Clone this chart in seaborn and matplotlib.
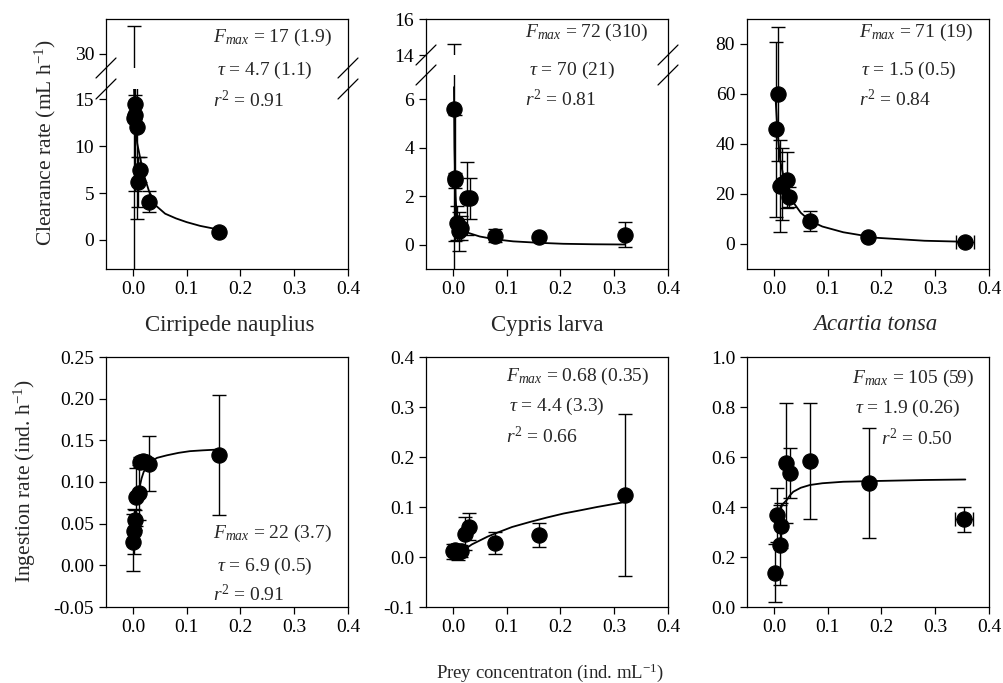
import matplotlib
matplotlib.use("Agg")
import matplotlib.pyplot as plt
import seaborn as sns
from matplotlib.lines import Line2D
from matplotlib.ticker import FormatStrFormatter

# ---- clearance rate, Cirripede nauplius
cn_clr_x = [0.002, 0.003, 0.004, 0.007, 0.010, 0.014, 0.030, 0.160]
cn_clr_y = [13.0, 14.5, 13.3, 12.0, 6.2, 7.5, 4.1, 0.9]
cn_clr_err = [20.0, 1.0, 8.1, 9.8, 2.7, 1.3, 1.1, 0.3]
cn_clr_fit_x = [0.002, 0.004, 0.008, 0.013, 0.02, 0.03, 0.044, 0.06, 0.08, 0.1, 0.125, 0.16]
cn_clr_fit_y = [16.5, 12.5, 10.3, 8.9, 7.0, 5.2, 3.6, 2.8, 2.3, 1.9, 1.5, 1.1]

# ---- clearance rate, Cypris larva
cy_clr_x = [0.002, 0.003, 0.004, 0.007, 0.012, 0.016, 0.027, 0.032, 0.078, 0.160, 0.320]
cy_clr_y = [5.6, 2.75, 2.65, 0.9, 0.55, 0.69, 1.92, 1.92, 0.38, 0.30, 0.42]
cy_clr_err = [9.0, 2.6, 0.3, 0.7, 0.8, 0.5, 1.5, 0.85, 0.25, 0.1, 0.53]
cy_clr_fit_x = [0.002, 0.003, 0.005, 0.007, 0.010, 0.019, 0.030, 0.05, 0.08, 0.112, 0.16, 0.205, 0.26, 0.32]
cy_clr_fit_y = [6.5, 4.0, 2.0, 1.2, 0.9, 0.62, 0.48, 0.34, 0.22, 0.14, 0.08, 0.04, 0.02, 0.01]

# ---- clearance rate, Acartia tonsa
at_clr_x = [0.003, 0.008, 0.011, 0.016, 0.024, 0.029, 0.067, 0.175, 0.355]
at_clr_y = [46, 60, 23.1, 24, 25.6, 18.9, 9.3, 3.0, 1.0]
at_clr_err = [35, 26.7, 18.4, 14.5, 11.2, 4.0, 4.0, 1.2, 0.8]
at_clr_xerr = [0, 0, 0, 0, 0, 0, 0, 0.005, 0.017]
at_clr_fit_x = [0.002, 0.004, 0.006, 0.008, 0.012, 0.018, 0.024, 0.036, 0.05, 0.067, 0.09, 0.129, 0.19, 0.28, 0.355]
at_clr_fit_y = [62, 55, 48, 42, 33, 27, 23.3, 16.7, 12.5, 9.3, 7.0, 4.7, 2.5, 1.3, 0.9]

# ---- ingestion rate, Cirripede nauplius
cn_ing_x = [0.001, 0.002, 0.003, 0.006, 0.012, 0.014, 0.018, 0.024, 0.030, 0.160]
cn_ing_y = [0.0275, 0.041, 0.054, 0.082, 0.087, 0.124, 0.125, 0.124, 0.122, 0.132]
cn_ing_err = [0.034, 0.027, 0.012, 0.035, 0.033, 0.006, 0.004, 0.005, 0.033, 0.072]
cn_ing_fit_x = [0.008, 0.012, 0.016, 0.020, 0.025, 0.032, 0.045, 0.063, 0.085, 0.106, 0.13, 0.16]
cn_ing_fit_y = [0.075, 0.092, 0.104, 0.112, 0.118, 0.124, 0.129, 0.132, 0.135, 0.137, 0.138, 0.139]

# ---- ingestion rate, Cypris larva
cy_ing_x = [0.001, 0.003, 0.006, 0.010, 0.016, 0.022, 0.030, 0.078, 0.161, 0.320]
cy_ing_y = [0.012, 0.015, 0.010, 0.011, 0.013, 0.047, 0.061, 0.028, 0.045, 0.125]
cy_ing_err = [0.015, 0.012, 0.014, 0.016, 0.012, 0.033, 0.027, 0.022, 0.024, 0.162]
cy_ing_fit_x = [0.016, 0.022, 0.035, 0.05, 0.065, 0.081, 0.11, 0.143, 0.175, 0.206, 0.24, 0.268, 0.32]
cy_ing_fit_y = [0.010, 0.015, 0.025, 0.033, 0.041, 0.048, 0.060, 0.070, 0.079, 0.087, 0.094, 0.100, 0.110]

# ---- ingestion rate, Acartia tonsa
at_ing_x = [0.002, 0.006, 0.011, 0.014, 0.022, 0.030, 0.068, 0.177, 0.354]
at_ing_y = [0.137, 0.368, 0.25, 0.325, 0.575, 0.535, 0.584, 0.495, 0.351]
at_ing_err = [0.115, 0.107, 0.16, 0.09, 0.24, 0.10, 0.232, 0.22, 0.05]
at_ing_xerr = [0, 0, 0, 0, 0, 0, 0, 0.005, 0.017]
at_ing_fit_x = [0.008, 0.012, 0.018, 0.024, 0.030, 0.036, 0.05, 0.067, 0.09, 0.129, 0.19, 0.28, 0.356]
at_ing_fit_y = [0.36, 0.395, 0.415, 0.428, 0.447, 0.461, 0.477, 0.488, 0.495, 0.501, 0.504, 0.508, 0.510]

x_ticks = [0.0, 0.1, 0.2, 0.3, 0.4]
species = ["Cirripede nauplius", "Cypris larva", "Acartia tonsa"]
clr_stats = [("17 (1.9)", "4.7 (1.1)", "0.91"), ("72 (310)", "70 (21)", "0.81"), ("71 (19)", "1.5 (0.5)", "0.84")]
ing_stats = [("22 (3.7)", "6.9 (0.5)", "0.91"), ("0.68 (0.35)", "4.4 (3.3)", "0.66"), ("105 (59)", "1.9 (0.26)", "0.50")]

sns.set_style("ticks")
plt.rcParams['font.family'] = ['Liberation Serif', 'DejaVu Serif']
plt.rcParams['mathtext.fontset'] = 'custom'
plt.rcParams['mathtext.rm'] = 'Liberation Serif'
plt.rcParams['mathtext.it'] = 'Liberation Serif:italic'
plt.rcParams['axes.unicode_minus'] = False

W, H = 1004, 683
fig = plt.figure(figsize=(W / 100, H / 100), dpi=100)
FS = 14
LW = 0.9


def px_axes(left, top, right, bottom):
    return fig.add_axes([left / W, 1 - bottom / H, (right - left) / W, (bottom - top) / H])


def style(ax):
    for sp in ax.spines.values():
        sp.set_color("black")
        sp.set_linewidth(LW)
    ax.tick_params(direction="out", length=5, width=LW, labelsize=FS, colors="black",
                   top=False, right=False)
    ax.set_xlim(-0.05, 0.4)
    ax.set_xticks(x_ticks)
    ax.xaxis.set_major_formatter(FormatStrFormatter("%.1f"))
    ax.set_facecolor("white")


def draw(ax, x, y, yerr, fx, fy, xerr=None):
    ax.errorbar(x, y, yerr=yerr, xerr=xerr, fmt="none", ecolor="black", elinewidth=1.0,
                capsize=5, capthick=1.0, zorder=2)
    sns.lineplot(x=fx, y=fy, ax=ax, color="black", lw=1.3, sort=False, estimator=None, zorder=3)
    sns.scatterplot(x=x, y=y, ax=ax, color="black", edgecolor="black", s=120, zorder=4)
    ax.set_xlabel("")
    ax.set_ylabel("")


def fline(x0, y0, x1, y1):
    fig.add_artist(Line2D([x0 / W, x1 / W], [1 - y0 / H, 1 - y1 / H], color="black", lw=LW))


def broken(left, right, top, gap_top, gap_bot, bottom, up_lim, lo_lim, up_ticks, lo_ticks, data):
    up = px_axes(left, top, right, gap_top)
    lo = px_axes(left, gap_bot, right, bottom)
    for ax in (up, lo):
        style(ax)
        draw(ax, *data)
    up.set_ylim(*up_lim)
    lo.set_ylim(*lo_lim)
    up.set_yticks(up_ticks)
    lo.set_yticks(lo_ticks)
    up.spines["bottom"].set_visible(False)
    lo.spines["top"].set_visible(False)
    up.tick_params(bottom=False, labelbottom=False)
    # spine through the gap and the break marks
    for sx in (left, right):
        fline(sx, gap_top, sx, gap_bot)
        for gy in (gap_top, gap_bot):
            fline(sx - 10, gy + 10, sx + 10, gy - 10)
    return up, lo


# top row: clearance rate
broken(106, 348, 19, 68, 89, 269, (28.5, 33.7), (-3.1, 16.1), [30], [0, 5, 10, 15],
       (cn_clr_x, cn_clr_y, cn_clr_err, cn_clr_fit_x, cn_clr_fit_y))
broken(426, 668, 19, 55, 75, 269, (14, 16), (-1, 7), [14, 16], [0, 2, 4, 6],
       (cy_clr_x, cy_clr_y, cy_clr_err, cy_clr_fit_x, cy_clr_fit_y))
ax3 = px_axes(747, 19, 989, 269)
style(ax3)
draw(ax3, at_clr_x, at_clr_y, at_clr_err, at_clr_fit_x, at_clr_fit_y, at_clr_xerr)
ax3.set_ylim(-10, 90)
ax3.set_yticks([0, 20, 40, 60, 80])

# bottom row: ingestion rate
ax4 = px_axes(106, 357, 348, 607)
style(ax4)
draw(ax4, cn_ing_x, cn_ing_y, cn_ing_err, cn_ing_fit_x, cn_ing_fit_y)
ax4.set_ylim(-0.05, 0.25)
ax4.set_yticks([-0.05, 0.0, 0.05, 0.10, 0.15, 0.20, 0.25])
ax4.yaxis.set_major_formatter(FormatStrFormatter("%.2f"))

ax5 = px_axes(426, 357, 668, 607)
style(ax5)
draw(ax5, cy_ing_x, cy_ing_y, cy_ing_err, cy_ing_fit_x, cy_ing_fit_y)
ax5.set_ylim(-0.1, 0.4)
ax5.set_yticks([-0.1, 0.0, 0.1, 0.2, 0.3, 0.4])
ax5.yaxis.set_major_formatter(FormatStrFormatter("%.1f"))

ax6 = px_axes(747, 357, 989, 607)
style(ax6)
draw(ax6, at_ing_x, at_ing_y, at_ing_err, at_ing_fit_x, at_ing_fit_y, at_ing_xerr)
ax6.set_ylim(0, 1.0)
ax6.set_yticks([0.0, 0.2, 0.4, 0.6, 0.8, 1.0])
ax6.yaxis.set_major_formatter(FormatStrFormatter("%.1f"))


def ftext(x, y, s, size=FS, **kw):
    fig.text(x / W, 1 - y / H, s, fontsize=size, va="center", **kw)


def stats(pos, vals):
    (fx, fy), (tx, ty), (rx, ry) = pos
    ftext(fx, fy, r"$F_{max}$" + " = " + vals[0])
    ftext(tx, ty, r"$\tau$" + " = " + vals[1])
    ftext(rx, ry, r"$r^2$" + " = " + vals[2])


stats(((213, 37), (217, 70), (213, 100)), clr_stats[0])
stats(((525, 32), (529, 70), (525, 99)), clr_stats[1])
stats(((859, 32), (861, 70), (859, 99)), clr_stats[2])
stats(((213, 533), (217, 566), (213, 595)), ing_stats[0])
stats(((506, 376), (509, 406), (506, 437)), ing_stats[1])
stats(((852, 378), (855, 408), (881, 439)), ing_stats[2])

ftext(230, 325, species[0], size=16.5, ha="center")
ftext(547, 325, species[1], size=16.5, ha="center")
ftext(875, 325, species[2], size=16.5, ha="center", style="italic")
ftext(550, 673, r"Prey concentraton (ind. mL$^{\mathrm{-1}}$)", size=13.5, ha="center")
fig.text(45 / W, 1 - 143 / H, r"Clearance rate (mL h$^{\mathrm{-1}}$)", fontsize=15.5,
         rotation=90, ha="center", va="center")
fig.text(25 / W, 1 - 481 / H, r"Ingestion rate (ind. h$^{\mathrm{-1}}$)", fontsize=15.5,
         rotation=90, ha="center", va="center")

fig.savefig("out.png", dpi=100, facecolor="white")
